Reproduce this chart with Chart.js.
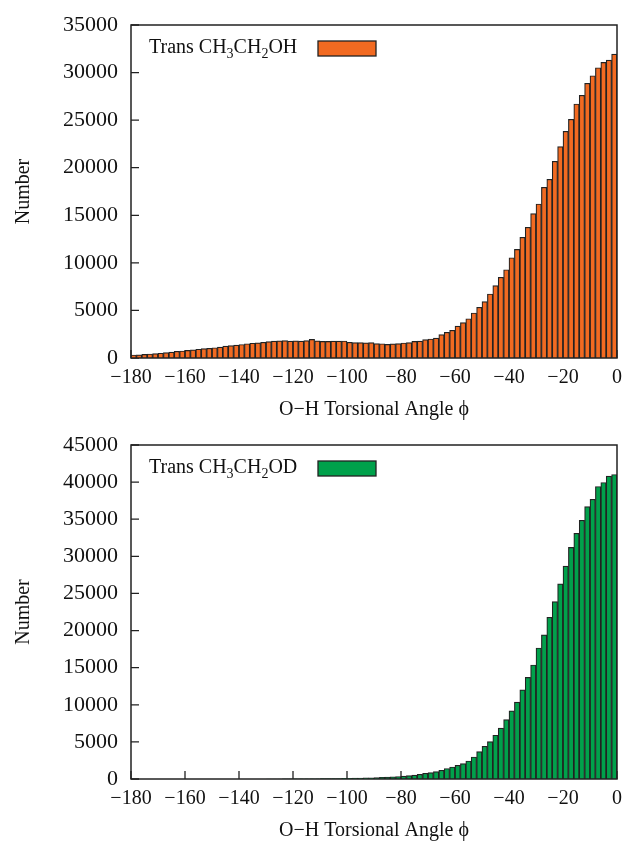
<!DOCTYPE html>
<html>
<head>
<meta charset="utf-8">
<script src="https://cdn.jsdelivr.net/npm/chart.js@4.4.0/dist/chart.umd.min.js"></script>
<style>
  html, body { margin: 0; padding: 0; background: #fff; }
  .panel { position: relative; width: 625px; }
</style>
</head>
<body>
<div class="panel" style="height:420px"><canvas id="chartOH"></canvas></div>
<div class="panel" style="height:421px"><canvas id="chartOD"></canvas></div>
<script>
// centros de los intervalos de 2 grados
const angles = [
  -179, -177, -175, -173, -171, -169, -167, -165, -163, -161,
  -159, -157, -155, -153, -151, -149, -147, -145, -143, -141,
  -139, -137, -135, -133, -131, -129, -127, -125, -123, -121,
  -119, -117, -115, -113, -111, -109, -107, -105, -103, -101,
  -99, -97, -95, -93, -91, -89, -87, -85, -83, -81,
  -79, -77, -75, -73, -71, -69, -67, -65, -63, -61,
  -59, -57, -55, -53, -51, -49, -47, -45, -43, -41,
  -39, -37, -35, -33, -31, -29, -27, -25, -23, -21,
  -19, -17, -15, -13, -11, -9, -7, -5, -3, -1
];

const ohCounts = [
  320, 330, 380, 420, 470, 500, 560, 620, 700, 740,
  800, 850, 920, 980, 1020, 1080, 1150, 1250, 1300, 1350,
  1420, 1500, 1550, 1600, 1650, 1720, 1780, 1800, 1820, 1780,
  1800, 1780, 1820, 1950, 1800, 1750, 1750, 1780, 1780, 1790,
  1650, 1620, 1620, 1600, 1620, 1520, 1500, 1430, 1480, 1520,
  1580, 1620, 1750, 1780, 1930, 2000, 2100, 2450, 2700, 2910,
  3360, 3710, 4130, 4730, 5330, 5920, 6730, 7600, 8480, 9280,
  10540, 11420, 12690, 13740, 15170, 16190, 17940, 18780, 20670, 22210,
  23830, 25090, 26700, 27610, 28870, 29670, 30510, 31070, 31320, 31950
];

const odCounts = [
  0, 0, 0, 0, 0, 0, 0, 0, 0, 0,
  0, 0, 0, 0, 0, 0, 0, 0, 0, 0,
  0, 0, 0, 0, 0, 2, 3, 5, 8, 10,
  15, 20, 25, 30, 35, 40, 50, 60, 70, 80,
  95, 110, 130, 150, 170, 200, 230, 260, 300, 340,
  400, 450, 520, 630, 770, 860, 990, 1170, 1420, 1620,
  1850, 2070, 2430, 2970, 3690, 4410, 5040, 5900, 6850, 8010,
  9190, 10360, 12020, 13690, 15360, 17650, 19410, 21790, 23910, 26300,
  28690, 31210, 33100, 34860, 36700, 37690, 39410, 39950, 40800, 41030
];

const xTicks = [-180, -160, -140, -120, -100, -80, -60, -40, -20, 0];
const yTicksOH = [0, 5000, 10000, 15000, 20000, 25000, 30000, 35000];
const yTicksOD = [0, 5000, 10000, 15000, 20000, 25000, 30000, 35000, 40000, 45000];

const FONT = "'Liberation Serif', 'Times New Roman', serif";
const INK = '#222';

// leyenda con subíndices: partes [texto, esSubíndice]
const legendOH = [['Trans CH', false], ['3', true], ['CH', false], ['2', true], ['OH', false]];
const legendOD = [['Trans CH', false], ['3', true], ['CH', false], ['2', true], ['OD', false]];

// marcas hacia dentro, marco y leyenda estilo gnuplot
const marcoPlugin = {
  id: 'marco',
  beforeDatasetsDraw(chart) {
    const { ctx, chartArea: a, scales } = chart;
    ctx.save();
    ctx.strokeStyle = INK;
    ctx.lineWidth = 1.3;
    ctx.beginPath();
    scales.x.ticks.forEach(t => {
      const px = scales.x.getPixelForValue(t.value);
      ctx.moveTo(px, a.bottom);
      ctx.lineTo(px, a.bottom - 8);
    });
    scales.y.ticks.forEach(t => {
      const py = scales.y.getPixelForValue(t.value);
      ctx.moveTo(a.left, py);
      ctx.lineTo(a.left + 8, py);
    });
    ctx.stroke();
    ctx.restore();
  },
  afterDatasetsDraw(chart, args, opts) {
    const { ctx, chartArea: a } = chart;
    ctx.save();
    ctx.strokeStyle = INK;
    ctx.lineWidth = 1.5;
    ctx.strokeRect(a.left, a.top, a.right - a.left, a.bottom - a.top);

    // leyenda
    let x = a.left + 18;
    const base = a.top + 28;
    ctx.fillStyle = '#111';
    ctx.textBaseline = 'alphabetic';
    opts.partes.forEach(([txt, sub]) => {
      ctx.font = (sub ? '14px ' : '20px ') + FONT;
      ctx.fillText(txt, x, base + (sub ? 5 : 0));
      x += ctx.measureText(txt).width;
    });
    const bx = Math.max(a.left + 187, x + 12);
    const ds = chart.data.datasets[0];
    ctx.fillStyle = ds.backgroundColor;
    ctx.fillRect(bx, a.top + 16, 58, 15);
    ctx.lineWidth = 1.3;
    ctx.strokeRect(bx, a.top + 16, 58, 15);
    ctx.restore();
  }
};

function fmt(v) {
  return v < 0 ? '\u2212' + Math.abs(v) : String(v);
}

function crearGrafico(idCanvas, counts, color, yTicks, partes) {
  const ctx = document.getElementById(idCanvas).getContext('2d');
  return new Chart(ctx, {
    type: 'bar',
    data: {
      datasets: [{
        data: angles.map((a, i) => ({ x: a, y: counts[i] })),
        backgroundColor: color,
        borderColor: INK,
        borderWidth: 1.2,
        barPercentage: 1,
        categoryPercentage: 1
      }]
    },
    options: {
      responsive: true,
      maintainAspectRatio: false,
      animation: false,
      events: [],
      layout: { padding: { left: 0, right: 8, top: 25, bottom: 0 } },
      plugins: {
        legend: { display: false },
        tooltip: { enabled: false },
        marco: { partes: partes }
      },
      scales: {
        x: {
          type: 'linear',
          min: -180,
          max: 0,
          offset: false,
          afterBuildTicks: s => { s.ticks = xTicks.map(v => ({ value: v })); },
          afterFit: s => { s.height = 62; s.paddingLeft = 0; s.paddingRight = 0; },
          grid: { display: false, drawTicks: false, offset: false },
          border: { display: false },
          ticks: {
            padding: 8,
            color: '#111',
            font: { family: FONT, size: 20 },
            maxRotation: 0,
            autoSkip: false,
            callback: v => fmt(v)
          },
          title: {
            display: true,
            text: 'O\u2212H Torsional Angle \u03D5',
            color: '#111',
            font: { family: FONT, size: 20 },
            padding: { top: 0, bottom: -2 }
          }
        },
        y: {
          min: 0,
          max: yTicks[yTicks.length - 1],
          afterBuildTicks: s => { s.ticks = yTicks.map(v => ({ value: v })); },
          afterFit: s => { s.width = 131; s.paddingTop = 0; s.paddingBottom = 0; },
          grid: { display: false, drawTicks: false },
          border: { display: false },
          ticks: {
            padding: 13,
            color: '#111',
            font: { family: FONT, size: 22 },
            callback: v => fmt(v)
          },
          title: {
            display: true,
            text: 'Number',
            color: '#111',
            font: { family: FONT, size: 20 },
            padding: { top: 12, bottom: 0 }
          }
        }
      }
    },
    plugins: [marcoPlugin]
  });
}

crearGrafico('chartOH', ohCounts, '#f26a21', yTicksOH, legendOH);
crearGrafico('chartOD', odCounts, '#00a14b', yTicksOD, legendOD);
</script>
</body>
</html>
